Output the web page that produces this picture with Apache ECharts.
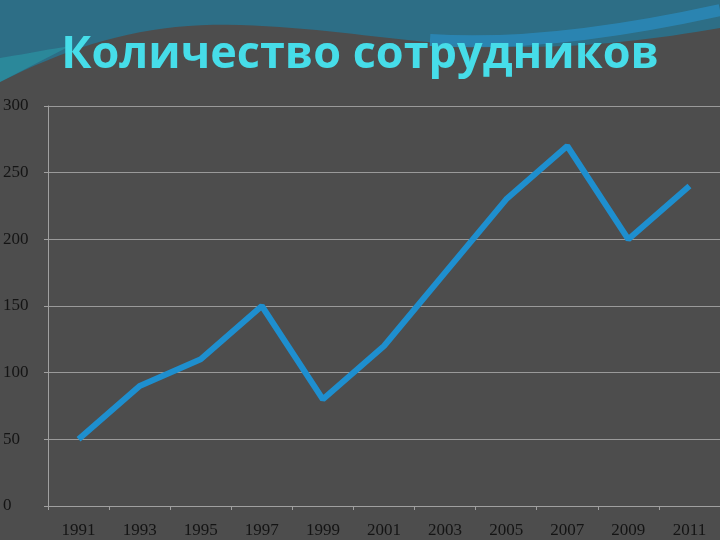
<!DOCTYPE html>
<html>
<head>
<meta charset="utf-8">
<script src="https://cdn.jsdelivr.net/npm/echarts@6/dist/echarts.min.js"></script>
<style>
html,body{margin:0;padding:0;background:#4d4d4d;}
#chart{width:720px;height:540px;}
</style>
</head>
<body>
<div id="chart"></div>
<script>
var titleText = 'Количество сотрудников';
var years = ['1991','1993','1995','1997','1999','2001','2003','2005','2007','2009','2011'];
var employees = [50, 90, 110, 150, 80, 120, 175, 230, 270, 200, 240];
var yTicks = [0, 50, 100, 150, 200, 250, 300];

// decorative background swoosh helpers
function bez(p0, p1, p2, p3, n) {
  var pts = [];
  for (var i = 0; i <= n; i++) {
    var t = i / n, u = 1 - t;
    pts.push([
      u*u*u*p0[0] + 3*u*u*t*p1[0] + 3*u*t*t*p2[0] + t*t*t*p3[0],
      u*u*u*p0[1] + 3*u*u*t*p1[1] + 3*u*t*t*p2[1] + t*t*t*p3[1]
    ]);
  }
  return pts;
}
var tealPts = [[0,0],[720,0]]
  .concat(bez([720,28],[640,42],[560,50],[480,46],20))
  .concat(bez([480,46],[400,42],[330,28],[240,25],20))
  .concat(bez([240,25],[150,22],[80,42],[0,82],20));
var lightPts = [[0,58]].concat(bez([0,58],[25,54],[45,50],[70,46],10)).concat([[0,82]]);

var chart = echarts.init(document.getElementById('chart'), null, {renderer:'canvas'});
chart.setOption({
  backgroundColor: '#4d4d4d',
  animation: false,
  graphic: [
    {type:'polygon', silent:true, z:-10, shape:{points:tealPts}, style:{fill:'#2d6e86'}},
    {type:'polygon', silent:true, z:-9, shape:{points:lightPts}, style:{fill:'#2a8f9f', opacity:0.8}},
    {type:'bezierCurve', silent:true, z:-9,
     shape:{x1:430,y1:40,cpx1:520,cpy1:46,cpx2:620,cpy2:32,x2:720,y2:10},
     style:{stroke:'#2a88b8', lineWidth:12, fill:null, opacity:0.85}},
    {type:'text', left:'center', top:33, z:10,
     style:{text:titleText, fill:'#46dde9', font:'bold 45px "Open Sans"',
            shadowColor:'rgba(0,0,0,0.5)', shadowBlur:3, shadowOffsetX:1, shadowOffsetY:2}}
  ],
  grid: {left:46, right:0, top:106, bottom:34, containLabel:false},
  xAxis: {
    type:'category', data: years, boundaryGap:true,
    axisLine:{lineStyle:{color:'#a0a0a0', width:1}},
    axisTick:{show:true, length:4, lineStyle:{color:'#a0a0a0'}},
    axisLabel:{color:'#141414', fontFamily:'Liberation Serif', fontSize:17, margin:16}
  },
  yAxis: {
    type:'value', min:0, max:300, interval:50,
    axisLine:{show:true, lineStyle:{color:'#a0a0a0', width:1}},
    axisTick:{show:true, length:4, lineStyle:{color:'#a0a0a0'}},
    splitLine:{lineStyle:{color:'#9a9a9a', width:1}},
    axisLabel:{color:'#141414', fontFamily:'Liberation Serif', fontSize:17, align:'left', margin:45,
      formatter:function(v){return yTicks.indexOf(v)>=0?String(v):'';}}
  },
  series: [{
    type:'line', data: employees, showSymbol:false,
    lineStyle:{color:'#1e8fcf', width:6}, itemStyle:{color:'#1e8fcf'}
  }]
});
</script>
</body>
</html>
